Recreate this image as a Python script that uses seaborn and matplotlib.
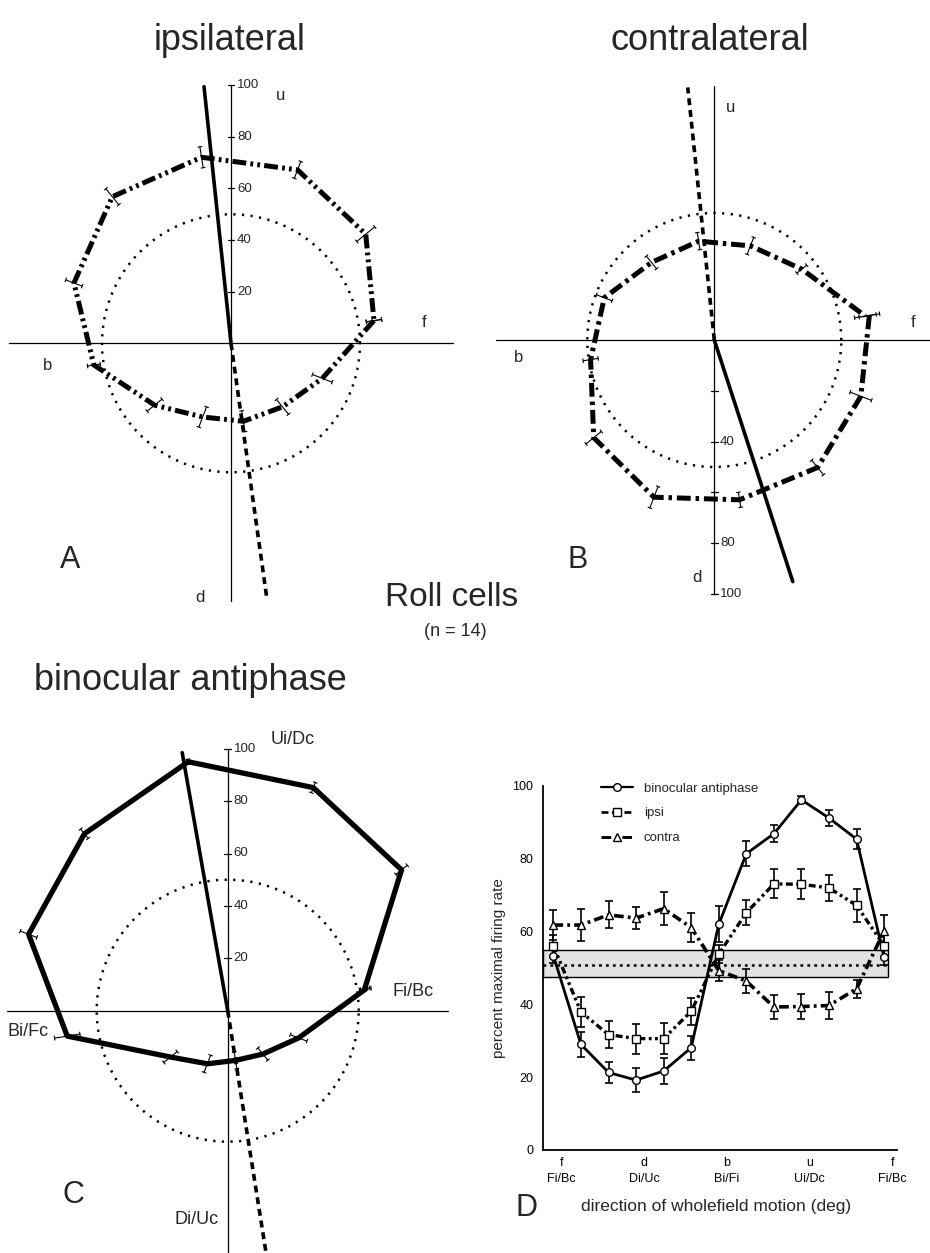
import numpy as np
import matplotlib
matplotlib.use("Agg")
import matplotlib.pyplot as plt
import seaborn as sns
from matplotlib.patches import Rectangle
from matplotlib.lines import Line2D
from matplotlib.collections import LineCollection

# ---------------- data ----------------
direction_deg = [-9, 21, 51, 81, 111, 141, 171, 201, 231, 261, 291, 321, 351]
binocular = [53.4, 29.0, 21.3, 19.2, 21.7, 28.1, 62.0, 81.4, 86.9, 96.2, 91.2, 85.4, 52.9]
binocular_err = [2.0, 3.4, 3.0, 3.2, 3.5, 3.3, 4.9, 3.4, 2.3, 1.0, 2.1, 2.8, 2.0]
ipsi = [56.1, 37.9, 31.7, 30.6, 30.6, 38.1, 53.8, 65.2, 73.1, 73.0, 72.0, 67.2, 56.1]
ipsi_err = [3.0, 4.1, 3.7, 4.1, 4.2, 3.7, 2.5, 3.4, 4.0, 4.1, 3.5, 4.5, 3.0]
contra = [61.8, 61.8, 64.6, 63.7, 66.3, 61.1, 49.3, 46.4, 39.3, 39.4, 39.7, 44.3, 60.2]
contra_err = [4.1, 4.5, 3.7, 3.0, 4.5, 3.9, 3.0, 3.3, 3.2, 3.4, 3.6, 2.5, 4.3]

spont_mean = 50.8
spont_low = 47.5
spont_high = 55.0
band_split = 171
band_right = 355
reference_circle = 50

# preferred-direction vectors (polar angle in deg, length in %)
pref_ipsi_solid, pref_ipsi_dashed = 96, -82
pref_contra_dashed, pref_contra_solid = 96, -72
pref_bino_solid, pref_bino_dashed = 100, -81
pref_length = 100

x_tick_pos = [0, 90, 180, 270, 360]
x_tick_labels = ["f\nFi/Bc", "d\nDi/Uc", "b\nBi/Fi", "u\nUi/Dc", "f\nFi/Bc"]
polar_ticks = [20, 40, 60, 80, 100]

# ---------------- style ----------------
sns.set_style("white")
plt.rcParams['font.family'] = ['Liberation Sans', 'DejaVu Sans']
plt.rcParams['lines.scale_dashes'] = False

W, H = 930, 1253
fig = plt.figure(figsize=(W / 100, H / 100), dpi=100)
fig.patch.set_facecolor("white")


def ftxt(x, y, s, **kw):
    kw.setdefault("ha", "center")
    kw.setdefault("va", "center")
    fig.text(x / W, 1 - y / H, s, **kw)


def polar_axes(box, center, scale):
    x0, y0, x1, y1 = box
    ax = fig.add_axes([x0 / W, 1 - y1 / H, (x1 - x0) / W, (y1 - y0) / H])
    cx, cy = center
    lims = ((x0 - cx) / scale, (x1 - cx) / scale, (cy - y1) / scale, (cy - y0) / scale)
    ax.axis("off")
    return ax, lims


def draw_polar(ax, lims, values, errs, ls, lw, hx, vy, ticks, tick_labels,
               solid_ang, dashed_ang):
    th = -np.deg2rad(np.array(direction_deg, dtype=float))
    r = np.array(values)
    e = np.array(errs)
    xs, ys = r * np.cos(th), r * np.sin(th)
    # axes lines
    ax.plot(hx, [0, 0], color="black", lw=0.9, zorder=1)
    ax.plot([0, 0], vy, color="black", lw=0.9, zorder=1)
    for t, lab in zip(ticks, tick_labels):
        ax.plot([-1.3, 1.3], [t, t], color="black", lw=0.9)
        if lab:
            ax.text(2.3, t, lab, ha="left", va="center", fontsize=9.5)
    # reference circle
    tt = np.linspace(0, 2 * np.pi, 400)
    ax.plot(reference_circle * np.cos(tt), reference_circle * np.sin(tt),
            color="black", lw=1.8, ls=(0, (1.6, 4.6)), zorder=2)
    # preferred directions
    for ang, style in ((solid_ang, "-"), (dashed_ang, (0, (5, 3.5)))):
        a = np.deg2rad(ang)
        ax.plot([0, pref_length * np.cos(a)], [0, pref_length * np.sin(a)],
                color="black", lw=2.6, ls=style, zorder=4)
    # response polygon
    sns.lineplot(x=xs, y=ys, sort=False, estimator=None, ax=ax, color="black",
                 lw=lw, linestyle=ls, zorder=3)
    # radial error bars
    segs, caps = [], []
    for thi, ri, ei in zip(th, r, e):
        c, s = np.cos(thi), np.sin(thi)
        p1 = ((ri - ei) * c, (ri - ei) * s)
        p2 = ((ri + ei) * c, (ri + ei) * s)
        segs.append([p1, p2])
        for p in (p1, p2):
            caps.append([(p[0] - 0.9 * s, p[1] + 0.9 * c), (p[0] + 0.9 * s, p[1] - 0.9 * c)])
    ax.add_collection(LineCollection(segs + caps, colors="black", linewidths=0.8, zorder=3))
    ax.set_xlim(lims[0], lims[1])
    ax.set_ylim(lims[2], lims[3])
    ax.axis("off")


# ---------------- panel A ----------------
axA, limA = polar_axes((0, 55, 465, 640), (231, 343.3), 2.58)
draw_polar(axA, limA, ipsi, ipsi_err, (0, (10, 3, 2, 3, 2, 3)), 3.6,
           [-86, 86], [-100, 100], polar_ticks, [str(t) for t in polar_ticks],
           pref_ipsi_solid, pref_ipsi_dashed)

# ---------------- panel B ----------------
axB, limB = polar_axes((470, 55, 930, 640), (714.3, 340), 2.54)
draw_polar(axB, limB, contra, contra_err, (0, (10, 3.5, 2.5, 3.5)), 3.6,
           [-86, 90], [-100, 100], [-t for t in polar_ticks],
           ["", "40", "", "80", "100"],
           pref_contra_solid, pref_contra_dashed)

# ---------------- panel C ----------------
axC, limC = polar_axes((0, 700, 470, 1253), (227.7, 1010.7), 2.62)
draw_polar(axC, limC, binocular, binocular_err, "-", 3.8,
           [-84.4, 84], [-100, 100], polar_ticks, [str(t) for t in polar_ticks],
           pref_bino_solid, pref_bino_dashed)

# ---------------- panel D ----------------
axD = fig.add_axes([543 / W, 1 - 1150 / H, (897 - 543) / W, (1150 - 786) / H])
x_left = -20.3
axD.add_patch(Rectangle((x_left, spont_low), band_split - x_left, spont_high - spont_low,
                        facecolor="#e2e2e2", edgecolor="black", lw=1.0, zorder=1))
axD.add_patch(Rectangle((band_split, spont_low), band_right - band_split, spont_high - spont_low,
                        facecolor="#e2e2e2", edgecolor="black", lw=1.0, zorder=1))
axD.plot([x_left, band_right], [spont_mean, spont_mean], color="black", lw=1.8,
         ls=(0, (2, 3)), zorder=2)

series = [
    (binocular, binocular_err, "-", "o", 2.0, "binocular antiphase"),
    (ipsi, ipsi_err, (0, (5, 2.5, 2, 2.5, 2, 2.5)), "s", 2.4, "ipsi"),
    (contra, contra_err, (0, (7, 3, 2, 3)), "^", 2.6, "contra"),
]
handles = []
for vals, errs, ls, mk, lw, lab in series:
    axD.errorbar(direction_deg, vals, yerr=errs, fmt="none", ecolor="black",
                 elinewidth=1.2, capsize=3, capthick=1.2, zorder=3)
    sns.lineplot(x=direction_deg, y=vals, sort=False, estimator=None, ax=axD,
                 color="black", lw=lw, linestyle=ls, marker=mk, markersize=5.5,
                 markerfacecolor="white", markeredgecolor="black",
                 markeredgewidth=1.0, zorder=4)
    handles.append(Line2D([], [], color="black", lw=lw * 0.8, ls=ls, marker=mk,
                          markersize=5.5, markerfacecolor="white",
                          markeredgecolor="black", markeredgewidth=1.0))

axD.set_xlim(x_left, 365)
axD.set_ylim(0, 100)
for side in ("top", "right"):
    axD.spines[side].set_visible(False)
for side in ("left", "bottom"):
    axD.spines[side].set_color("black")
    axD.spines[side].set_linewidth(1.3)
axD.set_yticks([0, 20, 40, 60, 80, 100])
axD.set_yticks([10, 30, 50, 70, 90], minor=True)
axD.set_xticks(x_tick_pos)
axD.set_xticklabels(x_tick_labels, linespacing=1.5)
axD.tick_params(axis="both", which="both", direction="in", length=5, width=1.1,
                colors="black", labelsize=9)
axD.tick_params(axis="y", which="major", pad=7)
axD.tick_params(axis="x", which="major", pad=5)
axD.set_xlabel("direction of wholefield motion (deg)", fontsize=12.5)
axD.xaxis.set_label_coords(0.49, -0.156)
axD.xaxis.label.set_va("center")
axD.set_ylabel("percent maximal firing rate", fontsize=11)
axD.yaxis.set_label_coords(-0.125, 0.5)
axD.yaxis.label.set_va("center")
axD.legend(handles, [s[5] for s in series], loc="upper left",
           bbox_to_anchor=(0.165, 1.01), frameon=False, fontsize=9.5,
           handlelength=2.4, handletextpad=0.8, labelspacing=0.95,
           borderpad=0, borderaxespad=0, numpoints=1)

# ---------------- texts ----------------
ftxt(230, 40, "ipsilateral", fontsize=26)
ftxt(710, 40, "contralateral", fontsize=26)
ftxt(190, 680, "binocular antiphase", fontsize=26)
ftxt(452, 597, "Roll cells", fontsize=24)
ftxt(455, 632, "(n = 14)", fontsize=13)

ftxt(281, 95, "u", fontsize=12)
ftxt(424, 322, "f", fontsize=12)
ftxt(48, 366, "b", fontsize=12)
ftxt(200, 598, "d", fontsize=12)
ftxt(731, 107, "u", fontsize=12)
ftxt(913, 322, "f", fontsize=12)
ftxt(519, 358, "b", fontsize=12)
ftxt(697, 577, "d", fontsize=12)
ftxt(293, 740, "Ui/Dc", fontsize=13)
ftxt(413, 992, "Fi/Bc", fontsize=13)
ftxt(28, 1032, "Bi/Fc", fontsize=13)
ftxt(197, 1220, "Di/Uc", fontsize=13)

ftxt(70, 560, "A", fontsize=22)
ftxt(578, 560, "B", fontsize=22)
ftxt(73, 1195, "C", fontsize=22)
ftxt(527, 1208, "D", fontsize=22)

fig.savefig("out.png", dpi=100, facecolor="white")
